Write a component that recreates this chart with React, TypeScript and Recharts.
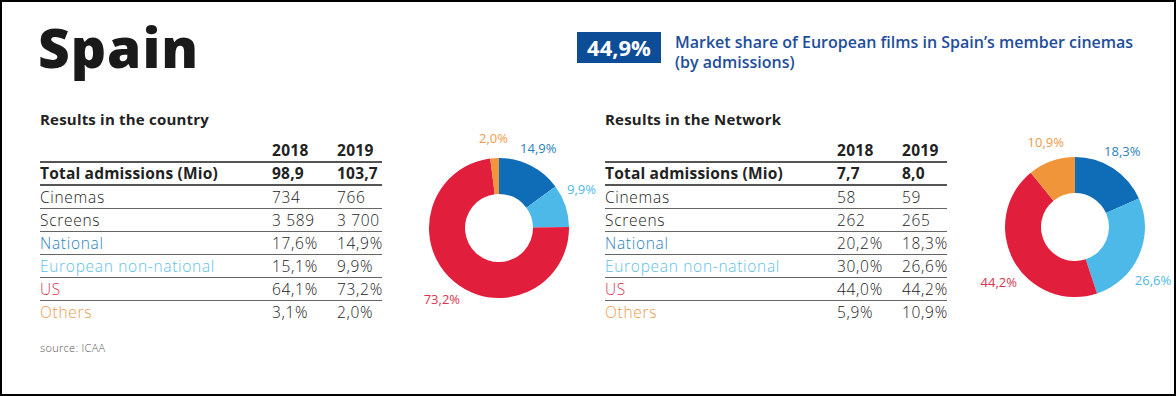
import React from 'react';
import { PieChart, Pie, Cell } from 'recharts';

const YEARS = ['2018', '2019'];
const ROW_LABELS = ['Total admissions (Mio)', 'Cinemas', 'Screens', 'National', 'European non-national', 'US', 'Others'];
const COUNTRY_2018 = ['98,9', '734', '3 589', '17,6%', '15,1%', '64,1%', '3,1%'];
const COUNTRY_2019 = ['103,7', '766', '3 700', '14,9%', '9,9%', '73,2%', '2,0%'];
const NETWORK_2018 = ['7,7', '58', '262', '20,2%', '30,0%', '44,0%', '5,9%'];
const NETWORK_2019 = ['8,0', '59', '265', '18,3%', '26,6%', '44,2%', '10,9%'];

const SHARE_CATEGORIES = ['National', 'European non-national', 'US', 'Others'];
const COUNTRY_SHARE_2019 = [14.9, 9.9, 73.2, 2.0];
const NETWORK_SHARE_2019 = [18.3, 26.6, 44.2, 10.9];

const EU_SHARE = '44,9%';

const SLICE_COLORS = ['#0f6cb6', '#4cb9e9', '#e21e3d', '#f0953a'];
const LABEL_COLORS = ['#2a7fc1', '#4cb9e9', '#d8344f', '#ef9a4a'];
const ROW_COLORS: Record<string, string> = {
  National: '#2a7fc1',
  'European non-national': '#62c0ea',
  US: '#d8344f',
  Others: '#ef9a4a',
};

const FONT = "'Open Sans', 'Noto Sans', sans-serif";
const RAD = Math.PI / 180;
const CX = 110;

function fmtPct(v: number) {
  return v.toFixed(1).replace('.', ',') + '%';
}

function toPieData(values: number[]) {
  return SHARE_CATEGORIES.map((name, i) => ({ name, value: values[i] }));
}

// label on the slice's mid angle; kept inside the box and pushed clear of the ring
function makeLabel(boxWidth: number) {
  return (props: any) => {
    const { cx, cy, midAngle, outerRadius, value, index } = props;
    const text = fmtPct(value);
    const hw = text.length * 3.8;
    const cos = Math.cos(-midAngle * RAD);
    const sin = Math.sin(-midAngle * RAD);
    let x = cx + (outerRadius + 17) * cos;
    let y = cy + (outerRadius + 20) * sin;
    x = Math.max(hw + 2, Math.min(boxWidth - hw - 2, x));
    const clear = outerRadius + 4;
    const dxNear = Math.max(0, Math.abs(x - cx) - hw);
    if (dxNear < clear) {
      const need = Math.sqrt(clear * clear - dxNear * dxNear) + 8;
      if (Math.abs(y - cy) < need) y = cy + (sin >= 0 ? need : -need);
    }
    return (
      <text
        x={x}
        y={y}
        fill={LABEL_COLORS[index]}
        textAnchor="middle"
        dominantBaseline="central"
        fontSize={13}
        fontFamily={FONT}
      >
        {text}
      </text>
    );
  };
}

function Donut({ values, left, top, width }: { values: number[]; left: number; top: number; width: number }) {
  return (
    <div style={{ position: 'absolute', left, top }}>
      <PieChart width={width} height={220} margin={{ top: 0, right: 0, bottom: 0, left: 0 }}>
        <Pie
          data={toPieData(values)}
          dataKey="value"
          cx={CX}
          cy={110}
          innerRadius={34}
          outerRadius={70}
          startAngle={90}
          endAngle={-270}
          stroke="none"
          label={makeLabel(width)}
          labelLine={false}
          isAnimationActive={false}
        >
          {values.map((_, i) => (
            <Cell key={i} fill={SLICE_COLORS[i]} />
          ))}
        </Pie>
      </PieChart>
    </div>
  );
}

function ResultsTable({ title, a, b, left }: { title: string; a: string[]; b: string[]; left: number }) {
  const cell = (w: number): React.CSSProperties => ({ position: 'absolute', left: w });
  return (
    <div style={{ position: 'absolute', left, top: 107, width: 342, fontFamily: FONT, color: '#222' }}>
      <div style={{ fontSize: 15, fontWeight: 700, height: 20, lineHeight: '20px', letterSpacing: 0.2 }}>{title}</div>
      <div
        style={{
          position: 'relative',
          marginTop: 11,
          height: 21,
          lineHeight: '21px',
          fontSize: 15.5,
          fontWeight: 700,
          letterSpacing: 0.3,
          borderBottom: '2px solid #555',
        }}
      >
        <span style={cell(232)}>{YEARS[0]}</span>
        <span style={cell(297)}>{YEARS[1]}</span>
      </div>
      {ROW_LABELS.map((label, i) => {
        const total = i === 0;
        const last = i === ROW_LABELS.length - 1;
        return (
          <div
            key={label}
            style={{
              position: 'relative',
              height: total ? 21 : 22,
              lineHeight: total ? '21px' : '22px',
              fontSize: 15.5,
              fontWeight: total ? 700 : 300,
              letterSpacing: total ? 0.2 : 0.7,
              borderBottom: last ? 'none' : total ? '2px solid #555' : '1px solid #666',
            }}
          >
            <span style={{ color: ROW_COLORS[label] || '#222' }}>{label}</span>
            <span style={cell(232)}>{a[i]}</span>
            <span style={cell(297)}>{b[i]}</span>
          </div>
        );
      })}
    </div>
  );
}

export default function App() {
  return (
    <div
      style={{
        position: 'relative',
        width: 1176,
        height: 396,
        boxSizing: 'border-box',
        border: '2px solid #000',
        background: '#fff',
        fontFamily: FONT,
        overflow: 'hidden',
      }}
    >
      <style>{'body{margin:0}'}</style>
      <div style={{ position: 'absolute', left: 36, top: 7, fontSize: 55, fontWeight: 800, color: '#1a1a1a', letterSpacing: 1 }}>
        Spain
      </div>
      <div
        style={{
          position: 'absolute',
          left: 575,
          top: 30,
          width: 84,
          height: 31,
          background: '#0d4c97',
          color: '#fff',
          fontSize: 22,
          fontWeight: 700,
          lineHeight: '31px',
          textAlign: 'center',
        }}
      >
        {EU_SHARE}
      </div>
      <div
        style={{
          position: 'absolute',
          left: 673,
          top: 30,
          fontSize: 16,
          fontWeight: 600,
          color: '#1e4e9a',
          lineHeight: '20px',
        }}
      >
        Market share of European films in Spain’s member cinemas
        <br />
        (by admissions)
      </div>

      <ResultsTable title="Results in the country" a={COUNTRY_2018} b={COUNTRY_2019} left={38} />
      <ResultsTable title="Results in the Network" a={NETWORK_2018} b={NETWORK_2019} left={603} />

      <Donut values={COUNTRY_SHARE_2019} left={387} top={116} width={220} />
      <Donut values={NETWORK_SHARE_2019} left={963} top={115} width={209} />

      <div style={{ position: 'absolute', left: 38, top: 338, fontSize: 11, color: '#555', fontWeight: 300, letterSpacing: 0.3 }}>
        source: ICAA
      </div>
    </div>
  );
}
